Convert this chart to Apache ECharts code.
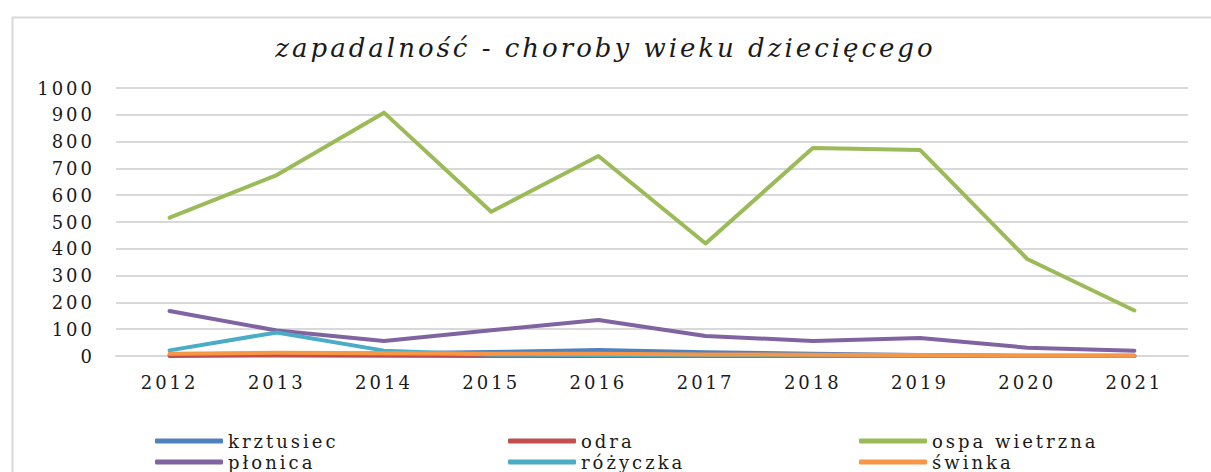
<!DOCTYPE html>
<html>
<head>
<meta charset="utf-8">
<script src="https://cdn.jsdelivr.net/npm/echarts@6/dist/echarts.min.js"></script>
<style>
html,body{margin:0;padding:0;background:#fff;}
#chart{width:1211px;height:472px;}
#chart svg text{letter-spacing:3px;}
</style>
</head>
<body>
<div id="chart"></div>
<script>
const titleText = 'zapadalność - choroby wieku dziecięcego';
const years = ['2012','2013','2014','2015','2016','2017','2018','2019','2020','2021'];
const yTicks = [0, 1000, 100];
const krztusiec = [4, 6, 10, 15, 22, 14, 8, 4, 1, 1];
const odra = [0, 2, 1, 0, 0, 0, 0, 1, 0, 0];
const ospaWietrzna = [516, 675, 908, 538, 746, 420, 776, 769, 362, 170];
const plonica = [168, 95, 56, 96, 134, 75, 56, 67, 31, 20];
const rozyczka = [21, 88, 20, 5, 4, 3, 2, 1, 0, 0];
const swinka = [8, 12, 10, 8, 8, 6, 5, 4, 2, 2];

const names = ['krztusiec','odra','ospa wietrzna','płonica','różyczka','świnka'];
const colors = ['#4F81BD','#C0504D','#9BBB59','#8064A2','#4BACC6','#F79646'];
const dataSets = [krztusiec, odra, ospaWietrzna, plonica, rozyczka, swinka];

const FONT = 'DejaVu Serif';
const chart = echarts.init(document.getElementById('chart'), null, { renderer: 'svg' });

const legendCols = [[0,3],[1,4],[2,5]];
const legendLeft = [150, 503, 854];

const option = {
  backgroundColor: '#fff',
  animation: false,
  title: {
    text: titleText,
    left: 'center',
    top: 30,
    textStyle: { fontFamily: FONT, fontStyle: 'italic', fontWeight: 'normal', fontSize: 26, color: '#1a1a1a' }
  },
  graphic: [{
    type: 'rect',
    left: 10, top: 15,
    shape: { width: 1215, height: 480 },
    style: { fill: 'none', stroke: '#d9d9d9', lineWidth: 2 },
    silent: true
  }],
  legend: legendCols.map((idxs, c) => ({
    orient: 'vertical',
    left: legendLeft[c],
    top: 427,
    height: 80,
    itemWidth: 68,
    itemHeight: 5,
    itemGap: 3,
    icon: 'roundRect',
    data: idxs.map(i => names[i]),
    textStyle: { fontFamily: FONT, fontSize: 18, color: '#1a1a1a' }
  })),
  grid: { left: 116, right: 23, top: 88, bottom: 116, containLabel: false },
  xAxis: {
    type: 'category',
    data: years,
    boundaryGap: true,
    axisLine: { show: true, lineStyle: { color: '#d9d9d9', width: 2 } },
    axisTick: { show: false },
    axisLabel: { fontFamily: FONT, fontSize: 18, color: '#1a1a1a', margin: 17 }
  },
  yAxis: {
    type: 'value',
    min: yTicks[0], max: yTicks[1], interval: yTicks[2],
    axisLine: { show: false },
    axisTick: { show: false },
    splitLine: { lineStyle: { color: '#d9d9d9', width: 2 } },
    axisLabel: { fontFamily: FONT, fontSize: 18, color: '#1a1a1a', margin: 21, formatter: v => String(v) }
  },
  series: names.map((n, i) => ({
    name: n,
    type: 'line',
    data: dataSets[i],
    color: colors[i],
    showSymbol: false,
    symbol: 'none',
    lineStyle: { width: 4, color: colors[i], cap: 'round', join: 'round' },
    itemStyle: { color: colors[i] }
  }))
};
chart.setOption(option);
</script>
</body>
</html>
